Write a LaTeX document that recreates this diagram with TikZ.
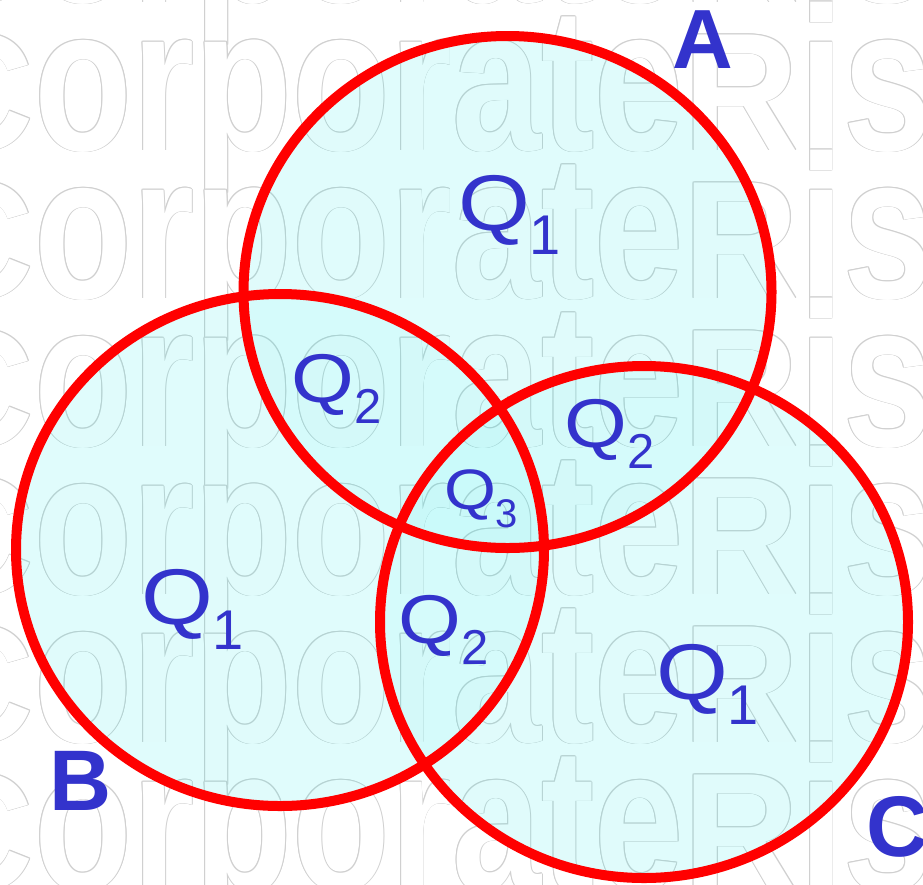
\documentclass[tikz,border=0pt]{standalone}
\usepackage{fontspec}
\setmainfont{Liberation Sans}
\usepackage{graphicx}
\definecolor{labblue}{RGB}{51,51,204}
\definecolor{ringred}{RGB}{255,0,0}
\definecolor{ringfill}{RGB}{0,230,230}
\definecolor{wmgray}{RGB}{208,208,208}
\newcommand\qlab[3]{\fontsize{#1}{#1}\selectfont\scalebox{1.17}[1]{Q}\raisebox{-0.31em}{\fontsize{#2}{#2}\selectfont #3}}
\newcommand\wmword{\scalebox{1}[1.28]{\scalebox{1}[0.82]{C}orporate\scalebox{1}[0.82]{R}isk}}
\tikzset{
  lab/.style={anchor=base west, inner sep=0pt, outer sep=0pt, text=labblue},
  ring/.style={draw=ringred, line width=10pt},
  wmrow/.style={anchor=base west, inner sep=0pt, outer sep=0pt, font=\bfseries\fontsize{160}{160}\selectfont}
}
\begin{document}
\begin{tikzpicture}[x=1pt,y=-1pt]
\useasboundingbox (0,0) rectangle (923,884);
\coordinate (cA) at (507.5,292);
\coordinate (cB) at (280,550);
\coordinate (cC) at (644,622);
% watermark: outlined text (gray halo, white body)
\begin{scope}
  \clip (0,0) rectangle (923,884);
  \foreach \i/\yy in {1/2,2/150,3/298,4/446,5/594,6/742,7/890}{
    \foreach \k/\dx/\dy in {1/0.9/0,2/-0.9/0,3/0/0.9,4/0/-0.9,5/0.65/0.65,6/-0.65/0.65,7/0.65/-0.65,8/-0.65/-0.65}{
      \node[wmrow, text=wmgray] (wm\i-\k) at (-81+\dx,\yy+\dy) {\wmword};
    }
    \node[wmrow, text=white] (wm\i) at (-81,\yy) {\wmword};
  }
\end{scope}
% fills: union once, then overlaps slightly deeper
\fill[ringfill, fill opacity=0.12] (cA) ellipse [x radius=264, y radius=256]
  (cB) ellipse [x radius=264, y radius=256]
  (cC) ellipse [x radius=264, y radius=256];
\begin{scope}
  \clip (cA) ellipse [x radius=264, y radius=256];
  \fill[ringfill, fill opacity=0.05] (cB) ellipse [x radius=264, y radius=256]
    (cC) ellipse [x radius=264, y radius=256];
\end{scope}
\begin{scope}
  \clip (cB) ellipse [x radius=264, y radius=256];
  \clip (cC) ellipse [x radius=264, y radius=256];
  \fill[ringfill, fill opacity=0.05] (0,0) rectangle (923,884);
\end{scope}
% rings
\draw[ring] (cA) ellipse [x radius=264, y radius=256];
\draw[ring] (cB) ellipse [x radius=264, y radius=256];
\draw[ring] (cC) ellipse [x radius=264, y radius=256];
% labels
\node[lab] (q1a) at (458,230.5) {\qlab{79}{56}{1}};
\node[lab] (q2ab) at (291.5,402) {\qlab{69}{49}{2}};
\node[lab] (q3) at (444,509.5) {\qlab{57}{40}{3}};
\node[lab] (q2ac) at (564.5,447) {\qlab{69}{49}{2}};
\node[lab] (q2bc) at (398.5,643) {\qlab{69}{49}{2}};
\node[lab] (q1b) at (141,624.5) {\qlab{79}{56}{1}};
\node[lab] (q1c) at (656,699.5) {\qlab{79}{56}{1}};
\node[lab, font=\bfseries\fontsize{84}{84}\selectfont] (la) at (672,68) {A};
\node[lab, font=\bfseries\fontsize{86}{86}\selectfont] (lb) at (49,810) {B};
\node[lab, font=\bfseries\fontsize{86}{86}\selectfont] (lc) at (866,856) {C};
\end{tikzpicture}
\end{document}
